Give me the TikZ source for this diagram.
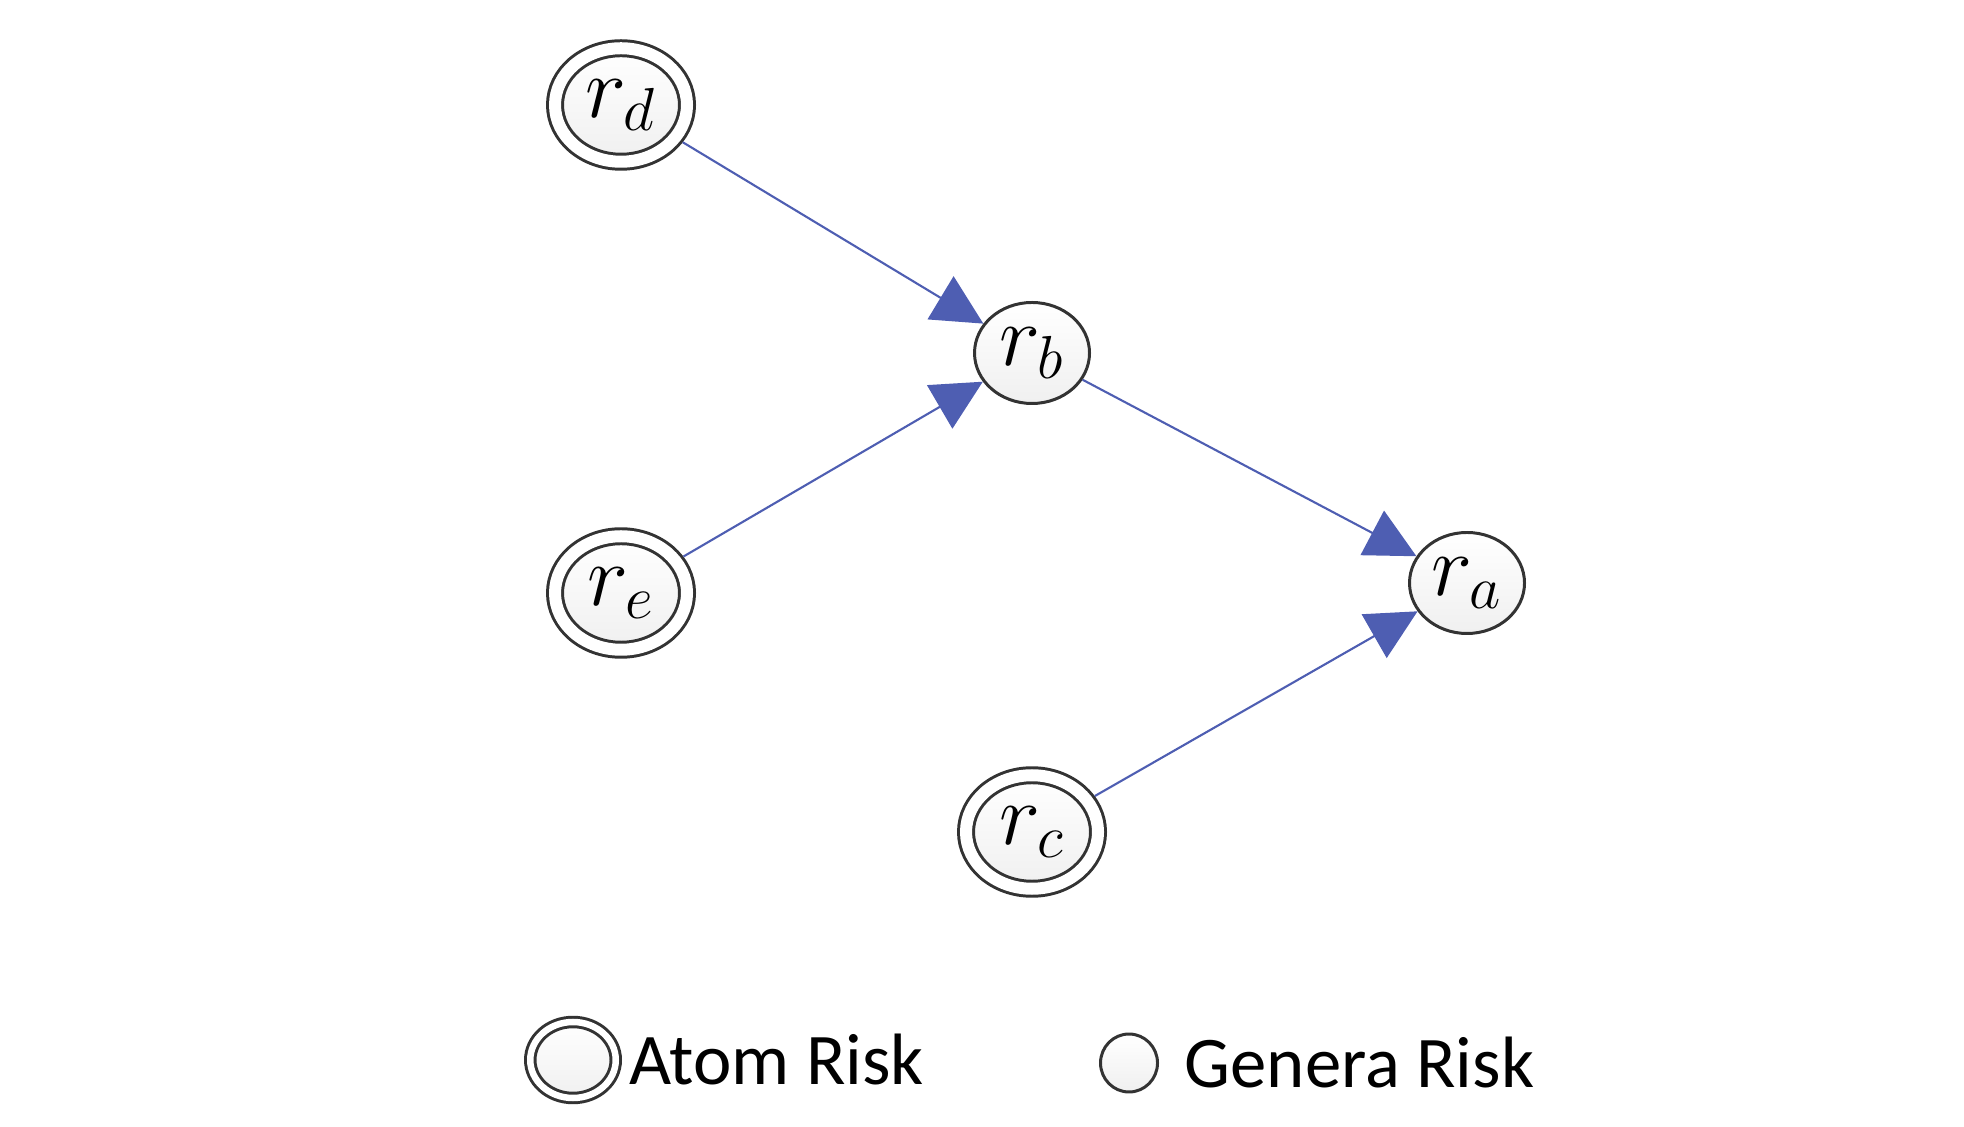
\documentclass[tikz,border=0pt]{standalone}
\usepackage{fontspec}
\setsansfont{Carlito}
\usetikzlibrary{positioning}
\usetikzlibrary{arrows.meta, shapes.geometric}
\definecolor{edgeblue}{RGB}{78,94,178}
\definecolor{ringgray}{RGB}{51,51,51}

\begin{document}
\begin{tikzpicture}[
  risk/.style={ellipse,draw=ringgray,line width=0.85pt,top color=white,bottom color=black!6,inner sep=0pt,font=\fontsize{24}{28}\selectfont},
  atom/.style={risk,double=white,double distance=0.12cm,outer sep=0.09cm,minimum width=1.32cm,minimum height=1.135cm},
  genera/.style={risk,minimum width=1.15cm,minimum height=1.01cm},
  link/.style={draw=edgeblue,line width=0.6pt,-{Triangle[length=0.5cm,width=0.5cm]}},
  legtext/.style={font=\sffamily\fontsize{20.7}{24}\selectfont,inner sep=0pt}]
\useasboundingbox (0,0) rectangle (19.64,11.26);

% risk nodes
\node[atom] (rd) at (6.21,10.21) {$r_d$};
\node[atom] (re) at (6.21,5.33) {$r_e$};
\node[genera] (rb) at (10.32,7.73) {$r_b$};
\node[genera] (ra) at (14.67,5.43) {$r_a$};
\node[atom] (rc) at (10.32,2.94) {$r_c$};

\draw[link] (rd) -- (rb);
\draw[link] (re) -- (rb);
\draw[link] (rb) -- (ra);
\draw[link] (rc) -- (ra);

% legend
\node[atom,minimum width=0.855cm,minimum height=0.76cm,double distance=0.065cm,outer sep=0.06cm] (legatom) at (5.73,0.66) {};
\node[legtext,right=0.07cm of legatom] (legatomtext) {Atom Risk};
\node[genera,minimum width=0.57cm,minimum height=0.58cm] (leggenera) at (11.29,0.63) {};
\node[legtext,right=0.25cm of leggenera] (leggeneratext) {Genera Risk};

\end{tikzpicture}
\end{document}
